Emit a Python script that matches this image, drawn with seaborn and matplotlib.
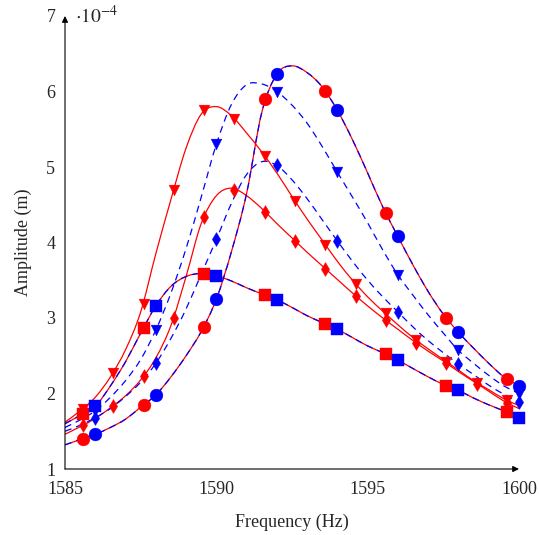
import matplotlib
matplotlib.use("Agg")
import matplotlib.pyplot as plt
from matplotlib.path import Path
from matplotlib.patches import PathPatch
import seaborn as sns

# frequency grid for the curves (Hz)
freq = [1585.0, 1585.5, 1586.0, 1586.5, 1587.0, 1587.5, 1588.0, 1588.5, 1589.0, 1589.5,
        1590.0, 1590.5, 1591.0, 1591.5, 1592.0, 1592.5, 1593.0, 1593.5, 1594.0, 1594.5,
        1595.0, 1595.5, 1596.0, 1596.5, 1597.0, 1597.5, 1598.0, 1598.5, 1599.0, 1599.5, 1600.0]

# curves (amplitude, x 1e-4 m)
circ_line = [1.32, 1.39, 1.46, 1.55, 1.66, 1.82, 1.98, 2.22, 2.50, 2.82,
             3.25, 3.88, 4.65, 5.72, 6.23, 6.34, 6.25, 6.06, 5.75, 5.36,
             4.92, 4.47, 4.08, 3.70, 3.35, 3.05, 2.81, 2.60, 2.40, 2.22, 2.10]
sq_line = [1.60, 1.71, 1.83, 2.10, 2.42, 2.80, 3.16, 3.42, 3.55, 3.59,
           3.56, 3.49, 3.40, 3.32, 3.24, 3.14, 3.03, 2.94, 2.85, 2.74,
           2.63, 2.54, 2.44, 2.33, 2.22, 2.12, 2.04, 1.94, 1.85, 1.77, 1.68]
red_tri_line = [1.62, 1.77, 1.95, 2.22, 2.58, 3.08, 3.85, 4.57, 5.25, 5.70,
                5.80, 5.68, 5.45, 5.20, 4.92, 4.61, 4.31, 4.03, 3.75, 3.50,
                3.28, 3.09, 2.91, 2.74, 2.59, 2.45, 2.31, 2.17, 2.05, 1.93, 1.84]
blue_tri_line = [1.55, 1.65, 1.77, 1.95, 2.17, 2.45, 2.84, 3.33, 3.92, 4.60,
                 5.30, 5.83, 6.09, 6.10, 6.00, 5.82, 5.58, 5.27, 4.93, 4.60,
                 4.26, 3.90, 3.57, 3.30, 3.04, 2.80, 2.57, 2.40, 2.24, 2.10, 2.00]
red_dia_line = [1.46, 1.56, 1.67, 1.81, 1.97, 2.18, 2.47, 2.90, 3.55, 4.25,
                4.62, 4.72, 4.62, 4.45, 4.25, 4.06, 3.87, 3.69, 3.51, 3.33,
                3.16, 3.00, 2.85, 2.70, 2.56, 2.43, 2.29, 2.16, 2.03, 1.90, 1.80]
blue_dia_line = [1.50, 1.58, 1.68, 1.80, 1.96, 2.15, 2.40, 2.73, 3.12, 3.58,
                 4.04, 4.52, 4.90, 5.07, 5.02, 4.83, 4.58, 4.30, 4.02, 3.75,
                 3.50, 3.28, 3.08, 2.88, 2.70, 2.54, 2.39, 2.25, 2.11, 1.99, 1.89]

# marker positions
red_f2 = [1585.6, 1587.6, 1589.6, 1591.6, 1593.6, 1595.6, 1597.6, 1599.6]
red_f1 = [1585.6, 1586.6, 1587.6, 1588.6, 1589.6, 1590.6, 1591.6, 1592.6,
          1593.6, 1594.6, 1595.6, 1596.6, 1597.6, 1598.6, 1599.6]
blue_f = [1586, 1588, 1590, 1592, 1594, 1596, 1598, 1600]

red_circ = [1.40, 1.85, 2.88, 5.90, 6.01, 4.39, 3.00, 2.19]
blue_circ = [1.46, 1.98, 3.25, 6.23, 5.75, 4.08, 2.81, 2.10]
red_sq = [1.73, 2.87, 3.58, 3.30, 2.92, 2.52, 2.10, 1.75]
blue_sq = [1.83, 3.16, 3.56, 3.24, 2.85, 2.44, 2.04, 1.68]
red_tri = [1.80, 2.27, 3.18, 4.69, 5.75, 5.64, 5.15, 4.55, 3.97, 3.45, 3.06, 2.71, 2.42, 2.14, 1.91]
red_dia = [1.58, 1.84, 2.23, 3.00, 4.34, 4.70, 4.41, 4.02, 3.65, 3.29, 2.97, 2.67, 2.40, 2.13, 1.88]
blue_tri = [1.77, 2.84, 5.31, 6.00, 4.93, 3.57, 2.57, 2.00]
blue_dia = [1.68, 2.40, 4.04, 5.02, 4.02, 3.08, 2.39, 1.89]


def smooth_line(ax, x, y, **kw):
    # draw a smooth (Catmull-Rom style) curve through the points, like pgfplots "smooth"
    pts = list(zip(x, y))
    n = len(pts)
    verts = [pts[0]]
    codes = [Path.MOVETO]
    for i in range(n - 1):
        p0 = pts[i - 1] if i > 0 else pts[i]
        p1, p2 = pts[i], pts[i + 1]
        p3 = pts[i + 2] if i + 2 < n else pts[i + 1]
        c1 = (p1[0] + (p2[0] - p0[0]) / 6, p1[1] + (p2[1] - p0[1]) / 6)
        c2 = (p2[0] - (p3[0] - p1[0]) / 6, p2[1] - (p3[1] - p1[1]) / 6)
        verts += [c1, c2, p2]
        codes += [Path.CURVE4] * 3
    ax.add_patch(PathPatch(Path(verts, codes), fill=False, **kw))


sns.set_style("white")
plt.rcParams['font.family'] = ['Liberation Serif', 'DejaVu Serif']
plt.rcParams['mathtext.fontset'] = 'stix'

fig = plt.figure(figsize=(5.39, 5.35), dpi=100)
ax = fig.add_axes([65 / 539, 1 - 469 / 535, 454 / 539, 453 / 535])

RED = '#ff0000'
BLUE = '#0000ff'
dash = (0, (5.5, 4))

# solid red curves
for y in [circ_line, red_tri_line, red_dia_line, sq_line]:
    smooth_line(ax, freq, y, edgecolor=RED, linewidth=0.9, zorder=2)

# dashed blue curves
for y in [circ_line, blue_tri_line, blue_dia_line, sq_line]:
    smooth_line(ax, freq, y, edgecolor=BLUE, linewidth=0.9, linestyle=dash, zorder=2.5)

# markers
mk = dict(ax=ax, zorder=3, linewidth=0.3, legend=False, clip_on=False)
sns.scatterplot(x=red_f2, y=red_circ, marker='o', s=85, color=RED, edgecolor=RED, **mk)
sns.scatterplot(x=red_f1, y=red_tri, marker='v', s=60, color=RED, edgecolor=RED, **mk)
sns.scatterplot(x=red_f1, y=red_dia, marker='d', s=50, color=RED, edgecolor=RED, **mk)
sns.scatterplot(x=red_f2, y=red_sq, marker='s', s=72, color=RED, edgecolor=RED, **mk)
sns.scatterplot(x=blue_f, y=blue_circ, marker='o', s=85, color=BLUE, edgecolor=BLUE, **mk)
sns.scatterplot(x=blue_f, y=blue_tri, marker='v', s=60, color=BLUE, edgecolor=BLUE, **mk)
sns.scatterplot(x=blue_f, y=blue_dia, marker='d', s=50, color=BLUE, edgecolor=BLUE, **mk)
sns.scatterplot(x=blue_f, y=blue_sq, marker='s', s=72, color=BLUE, edgecolor=BLUE, **mk)

ax.set_xlim(1585, 1600)
ax.set_ylim(1, 7)
ax.set_xticks([1585, 1590, 1595, 1600])
ax.set_yticks([1, 2, 3, 4, 5, 6, 7])
ax.tick_params(direction='in', length=7, width=0.6, color='0.55', labelsize=13, pad=7)
ax.tick_params(axis='x', pad=9)

for s in ax.spines.values():
    s.set_visible(False)

# axis lines with arrow heads
arr = dict(arrowstyle='-|>', color='black', lw=0.8, mutation_scale=9, shrinkA=0, shrinkB=0)
ax.annotate('', xy=(1, 0), xytext=(0, 0), xycoords='axes fraction', arrowprops=arr)
ax.annotate('', xy=(0, 1), xytext=(0, 0), xycoords='axes fraction', arrowprops=arr)

ax.text(0.022, 0.985, r'$\cdot10^{-4}$', transform=ax.transAxes, ha='left', va='baseline', fontsize=14)

ax.set_xlabel('Frequency (Hz)', fontsize=13, labelpad=11)
ax.set_ylabel('Amplitude (m)', fontsize=13, labelpad=10)

fig.savefig('out.png', dpi=100)
